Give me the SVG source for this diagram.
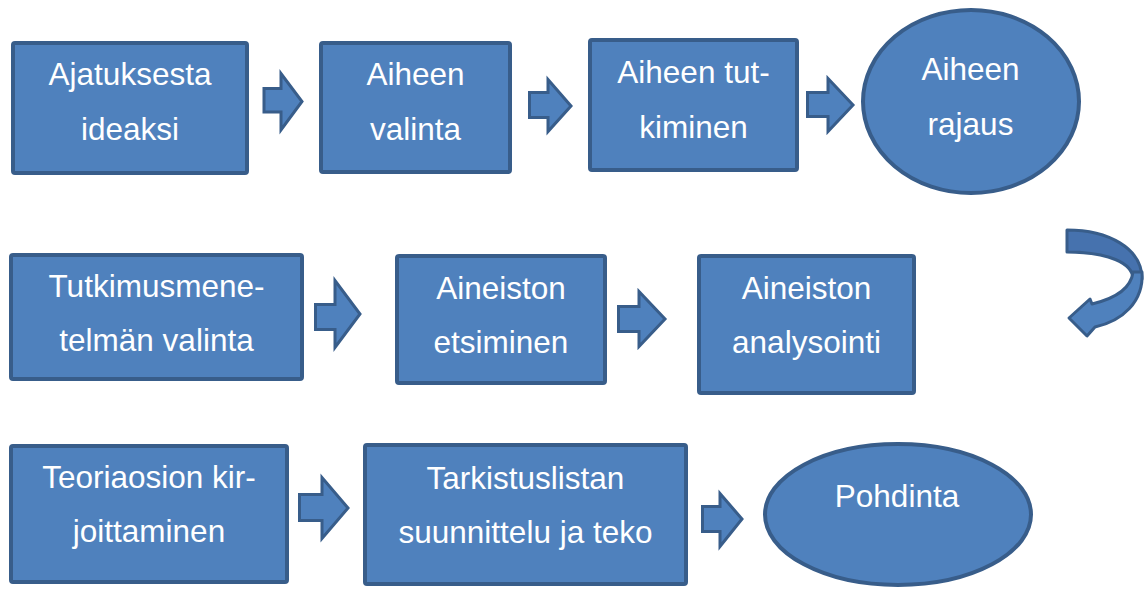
<svg xmlns="http://www.w3.org/2000/svg" width="1147" height="592" viewBox="0 0 1147 592">
<style>
.box{fill:#4F81BD;stroke:#385D8A;stroke-width:4}
.arr{fill:#4F81BD;stroke:#385D8A;stroke-width:3;stroke-linejoin:miter}
.t{font-family:"Liberation Sans",Arial,sans-serif;font-size:31.5px;fill:#FFFFFF;text-anchor:middle}
</style>
<rect width="1147" height="592" fill="#FFFFFF"/>
<g id="n1"><rect class="box" x="13" y="43" width="234" height="130" rx="2"/><text class="t" x="130" y="85">Ajatuksesta</text><text class="t" x="130" y="140">ideaksi</text></g>
<g id="n2"><rect class="box" x="321" y="43" width="189" height="129" rx="2"/><text class="t" x="415.5" y="85">Aiheen</text><text class="t" x="415.5" y="140">valinta</text></g>
<g id="n3"><rect class="box" x="590" y="40" width="207" height="130" rx="2"/><text class="t" x="693.5" y="83">Aiheen tut-</text><text class="t" x="693.5" y="138">kiminen</text></g>
<g id="n4"><ellipse class="box" cx="971" cy="101.5" rx="108" ry="91.5"/><text class="t" x="970.5" y="80">Aiheen</text><text class="t" x="970.5" y="135">rajaus</text></g>
<g id="n5"><rect class="box" x="11" y="255" width="291" height="124" rx="2"/><text class="t" x="156.5" y="297">Tutkimusmene-</text><text class="t" x="156.5" y="351">telmän valinta</text></g>
<g id="n6"><rect class="box" x="397" y="256" width="208" height="127" rx="2"/><text class="t" x="501" y="299">Aineiston</text><text class="t" x="501" y="353">etsiminen</text></g>
<g id="n7"><rect class="box" x="699" y="256" width="215" height="137" rx="2"/><text class="t" x="806.5" y="299">Aineiston</text><text class="t" x="806.5" y="353">analysointi</text></g>
<g id="n8"><rect class="box" x="11" y="446" width="276" height="136" rx="2"/><text class="t" x="149" y="488">Teoriaosion kir-</text><text class="t" x="149" y="542">joittaminen</text></g>
<g id="n9"><rect class="box" x="365" y="445" width="321" height="139" rx="2"/><text class="t" x="525.5" y="489">Tarkistuslistan</text><text class="t" x="525.5" y="543">suunnittelu ja teko</text></g>
<g id="n10"><ellipse class="box" cx="898" cy="514.5" rx="133" ry="70.5"/><text class="t" x="897" y="507">Pohdinta</text></g>
<g id="connectors">
<path class="arr" d="M264,88.5 L281,88.5 L281,73.5 L302,101.5 L281,130 L281,112 L264,112 Z"/>
<path class="arr" d="M529.5,92.5 L548,92.5 L548,79.5 L571,106 L548,131.5 L548,117.5 L529.5,117.5 Z"/>
<path class="arr" d="M807.5,92.5 L828,92.5 L828,78.5 L853,105 L828,131.5 L828,116.5 L807.5,116.5 Z"/>
<path class="arr" d="M315.5,304.5 L335,304.5 L335,280.5 L360,314 L335,347.5 L335,329.5 L315.5,329.5 Z"/>
<path class="arr" d="M618.5,306.5 L639,306.5 L639,291.5 L665,319 L639,346.5 L639,331.5 L618.5,331.5 Z"/>
<path class="arr" d="M299.5,494.5 L322,494.5 L322,477.5 L348,508 L322,538.5 L322,520.5 L299.5,520.5 Z"/>
<path class="arr" d="M702.5,506.5 L720,506.5 L720,493.5 L742,519 L720,546.5 L720,531.5 L702.5,531.5 Z"/>
<g id="curved">
<path d="M1067,230 C1108,230 1142,248 1142,279 L1133,279 C1133,263 1108,252 1067,252 Z" fill="#4672AE" stroke="#385D8A" stroke-width="3" stroke-linejoin="round"/>
<path d="M1142,272 C1144,302 1122,321 1095,327 L1087,336 L1069,318 L1090,299 L1092,304 C1113,299 1131,289 1133,272 Z" fill="#4F81BD" stroke="#385D8A" stroke-width="3" stroke-linejoin="round"/>
</g>
</g>
</svg>
